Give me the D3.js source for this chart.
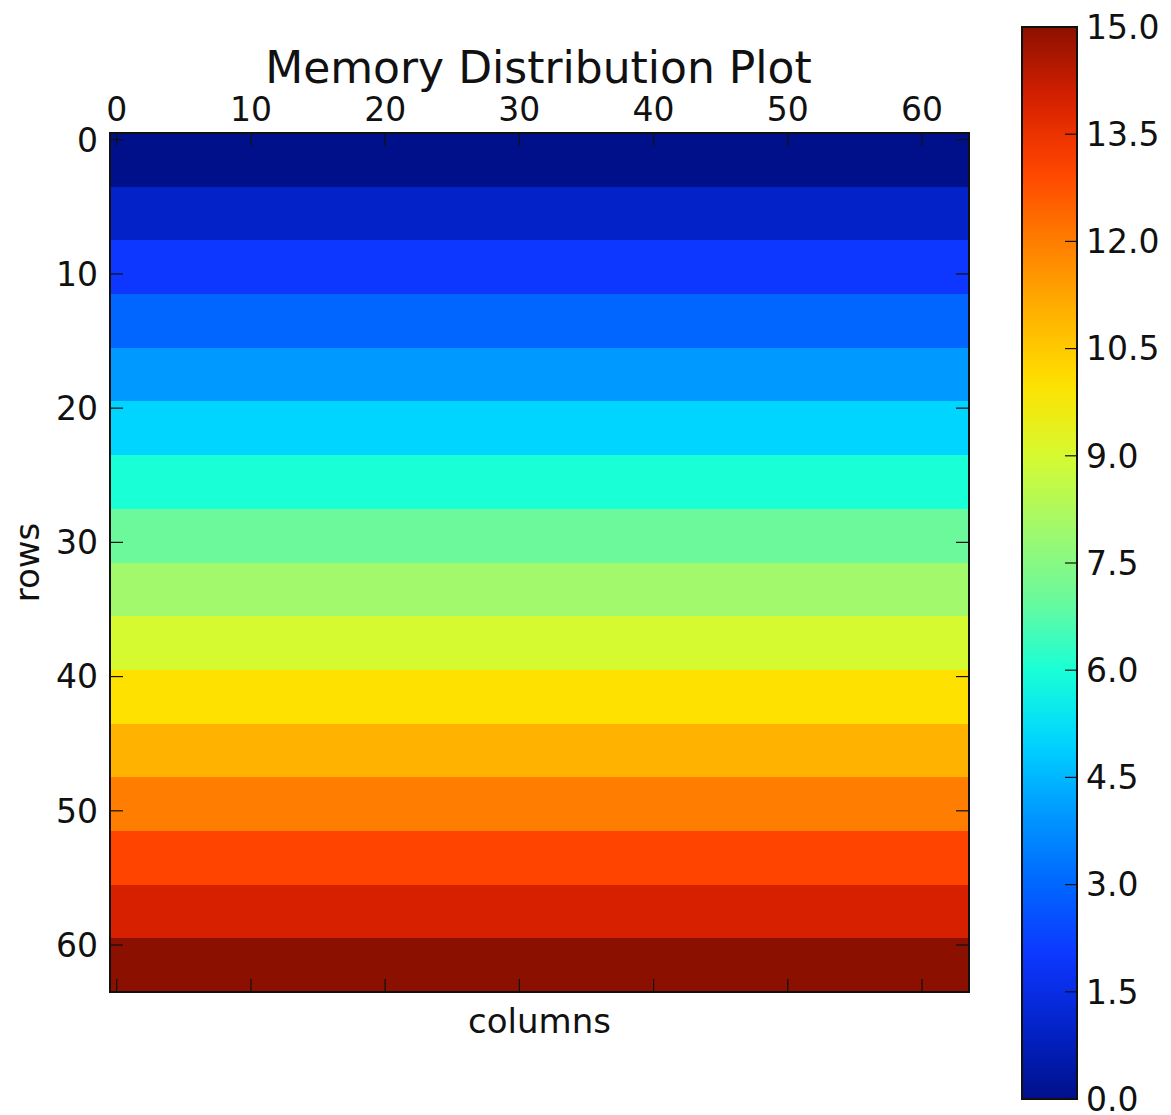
<!DOCTYPE html>
<html>
<head>
<meta charset="utf-8">
<script src="https://cdn.jsdelivr.net/npm/d3@7"></script>
<style>
  body { margin: 0; background: #fff; }
  text { font-family: "DejaVu Sans", sans-serif; fill: #111; }
</style>
</head>
<body>
<div id="chart"></div>
<script>
// Valori della matrice: ogni riga ha un valore costante (64 righe x 64 colonne)
const rowValues = [
  0, 0, 0, 0, 1, 1, 1, 1, 2, 2, 2, 2, 3, 3, 3, 3,
  4, 4, 4, 4, 5, 5, 5, 5, 6, 6, 6, 6, 7, 7, 7, 7,
  8, 8, 8, 8, 9, 9, 9, 9, 10, 10, 10, 10, 11, 11, 11, 11,
  12, 12, 12, 12, 13, 13, 13, 13, 14, 14, 14, 14, 15, 15, 15, 15
];
const nColumns = 64;
const xTicks = [0, 10, 20, 30, 40, 50, 60];
const yTicks = [0, 10, 20, 30, 40, 50, 60];
const cbarTicks = [0, 1.5, 3, 4.5, 6, 7.5, 9, 10.5, 12, 13.5, 15];
const valueRange = [0, 15];

// Tavolozza tipo "jet" come appare nell'immagine (un colore per ogni intero 0..15)
const palette = [
  "#00108a", "#0323c9", "#0d36ff", "#0066ff", "#0099ff", "#00d5ff",
  "#19ffd6", "#6cf99b", "#a2f96b", "#d6fa30", "#ffe100", "#ffb200",
  "#ff7d00", "#ff4400", "#d62000", "#8c1000"
];

const width = 1171;
const height = 1115;
const plot = { left: 110, top: 133, size: 859 };
const cbar = { left: 1022, top: 27, width: 55, height: 1072 };
const tickLen = 13;

const color = d3.scaleLinear()
  .domain(d3.range(palette.length).map(i => valueRange[0] + i * (valueRange[1] - valueRange[0]) / (palette.length - 1)))
  .range(palette)
  .interpolate(d3.interpolateRgb)
  .clamp(true);

const svg = d3.select("#chart")
  .append("svg")
  .attr("width", width)
  .attr("height", height);

svg.append("rect").attr("width", width).attr("height", height).attr("fill", "#fff");

// Scale: centri delle celle come in imshow
const x = d3.scaleLinear().domain([-0.5, nColumns - 0.5]).range([plot.left, plot.left + plot.size]);
const y = d3.scaleLinear().domain([-0.5, rowValues.length - 0.5]).range([plot.top, plot.top + plot.size]);

// Celle (una striscia per riga)
svg.append("g")
  .selectAll("rect")
  .data(rowValues)
  .enter().append("rect")
  .attr("x", x(-0.5))
  .attr("y", (d, i) => y(i - 0.5))
  .attr("width", x(nColumns - 0.5) - x(-0.5))
  .attr("height", (d, i) => y(i + 0.5) - y(i - 0.5) + 0.5)
  .attr("fill", d => color(d))
  .attr("shape-rendering", "crispEdges");

// Tacche interne su tutti i lati
const ticks = svg.append("g").attr("stroke", "#111").attr("stroke-width", 1.2);
xTicks.forEach(t => {
  ticks.append("line").attr("x1", x(t)).attr("x2", x(t)).attr("y1", plot.top).attr("y2", plot.top + tickLen);
  ticks.append("line").attr("x1", x(t)).attr("x2", x(t)).attr("y1", plot.top + plot.size).attr("y2", plot.top + plot.size - tickLen);
});
yTicks.forEach(t => {
  ticks.append("line").attr("y1", y(t)).attr("y2", y(t)).attr("x1", plot.left).attr("x2", plot.left + tickLen);
  ticks.append("line").attr("y1", y(t)).attr("y2", y(t)).attr("x1", plot.left + plot.size).attr("x2", plot.left + plot.size - tickLen);
});

svg.append("rect")
  .attr("x", plot.left).attr("y", plot.top)
  .attr("width", plot.size).attr("height", plot.size)
  .attr("fill", "none").attr("stroke", "#111").attr("stroke-width", 2);

// Etichette delle tacche
svg.append("g").selectAll("text")
  .data(xTicks).enter().append("text")
  .attr("x", d => x(d)).attr("y", plot.top - 12)
  .attr("text-anchor", "middle")
  .style("font-size", "33px")
  .text(d => d);

svg.append("g").selectAll("text")
  .data(yTicks).enter().append("text")
  .attr("x", plot.left - 12).attr("y", d => y(d))
  .attr("dy", "0.36em")
  .attr("text-anchor", "end")
  .style("font-size", "33px")
  .text(d => d);

// Titolo ed etichette degli assi
svg.append("text")
  .attr("x", plot.left + plot.size / 2 - 1).attr("y", 83)
  .attr("text-anchor", "middle")
  .style("font-size", "44px")
  .text("Memory Distribution Plot");

svg.append("text")
  .attr("x", plot.left + plot.size / 2).attr("y", 1033)
  .attr("text-anchor", "middle")
  .style("font-size", "34px")
  .text("columns");

svg.append("text")
  .attr("transform", `translate(39, ${plot.top + plot.size / 2}) rotate(-90)`)
  .attr("text-anchor", "middle")
  .style("font-size", "34px")
  .text("rows");

// Barra dei colori
const cy = d3.scaleLinear().domain(valueRange).range([cbar.top + cbar.height, cbar.top]);
const grad = svg.append("defs").append("linearGradient")
  .attr("id", "jetGrad")
  .attr("x1", 0).attr("x2", 0).attr("y1", 1).attr("y2", 0);
grad.selectAll("stop")
  .data(d3.range(0, 1.0001, 0.02))
  .enter().append("stop")
  .attr("offset", d => d)
  .attr("stop-color", d => color(valueRange[0] + d * (valueRange[1] - valueRange[0])));

svg.append("rect")
  .attr("x", cbar.left).attr("y", cbar.top)
  .attr("width", cbar.width).attr("height", cbar.height)
  .attr("fill", "url(#jetGrad)")
  .attr("stroke", "#111").attr("stroke-width", 2);

const cbAxis = svg.append("g");
cbarTicks.forEach(t => {
  cbAxis.append("line")
    .attr("x1", cbar.left + cbar.width).attr("x2", cbar.left + cbar.width - 12)
    .attr("y1", cy(t)).attr("y2", cy(t))
    .attr("stroke", "#111").attr("stroke-width", 1.2);
});
cbAxis.selectAll("text")
  .data(cbarTicks).enter().append("text")
  .attr("x", cbar.left + cbar.width + 9).attr("y", d => cy(d))
  .attr("dy", "0.36em")
  .style("font-size", "33px")
  .text(d => d.toFixed(1));
</script>
</body>
</html>
